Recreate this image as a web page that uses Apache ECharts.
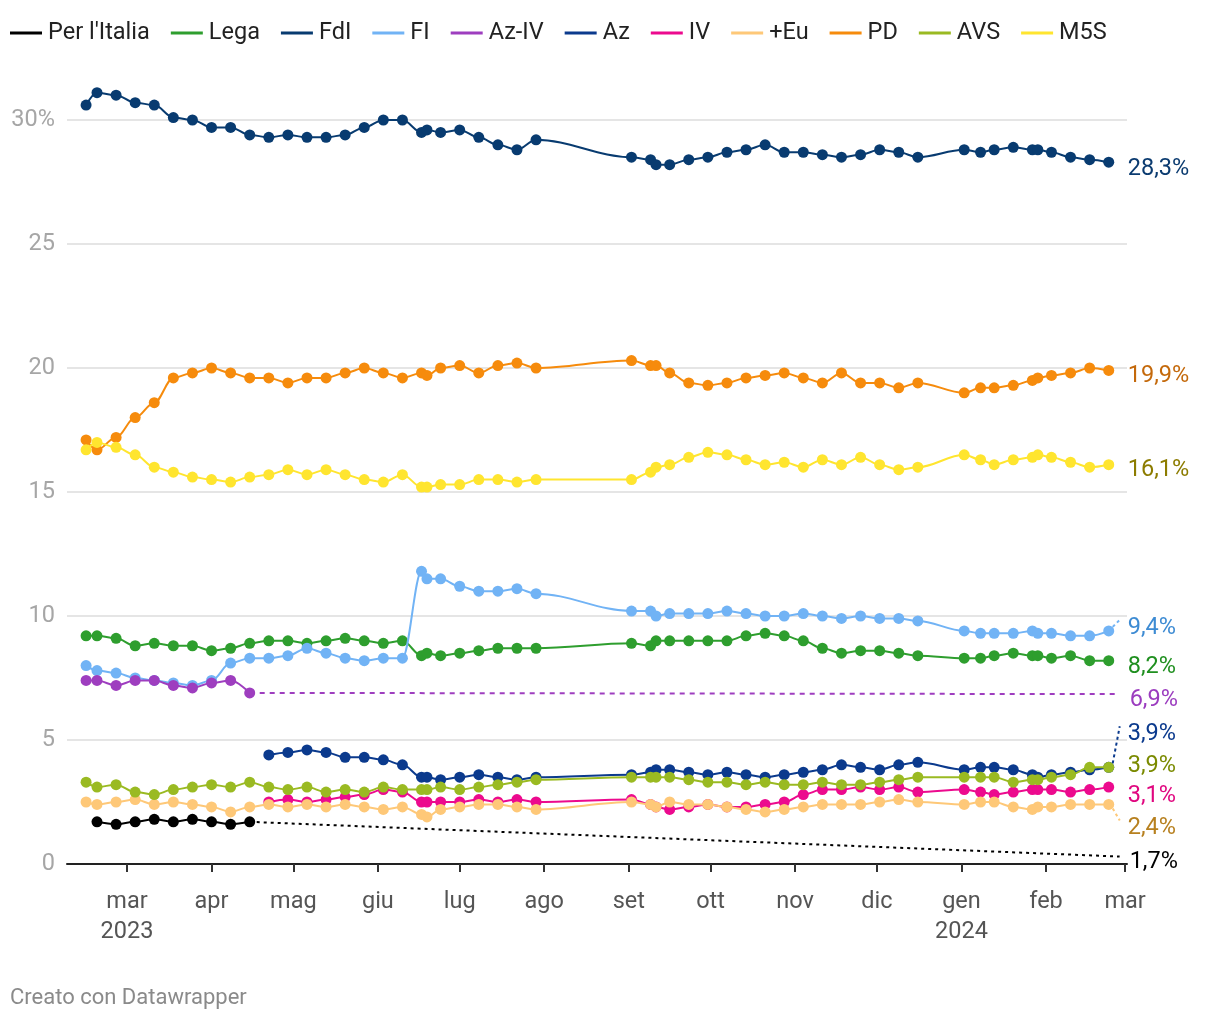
<!DOCTYPE html>
<html><head><meta charset="utf-8">
<script src="https://cdn.jsdelivr.net/npm/echarts@6/dist/echarts.min.js"></script>
<style>html,body{margin:0;padding:0;background:#fff}#c{width:1220px;height:1020px}</style>
</head><body><div id="c"></div>
<script>
// ---------- DATA ----------
const dates = [
 '2023-02-14','2023-02-18','2023-02-25','2023-03-04','2023-03-11','2023-03-18','2023-03-25','2023-04-01','2023-04-08','2023-04-15',
 '2023-04-22','2023-04-29','2023-05-06','2023-05-13','2023-05-20','2023-05-27','2023-06-03','2023-06-10','2023-06-17','2023-06-19',
 '2023-06-24','2023-07-01','2023-07-08','2023-07-15','2023-07-22','2023-07-29',
 '2023-09-02','2023-09-09','2023-09-11','2023-09-16','2023-09-23','2023-09-30',
 '2023-10-07','2023-10-14','2023-10-21','2023-10-28',
 '2023-11-04','2023-11-11','2023-11-18','2023-11-25',
 '2023-12-02','2023-12-09','2023-12-16',
 '2024-01-02','2024-01-08','2024-01-13','2024-01-20','2024-01-27','2024-01-29',
 '2024-02-03','2024-02-10','2024-02-17','2024-02-24'
];
// index of the first date each series starts at
const perItaliaStart = 1, azStart = 10, ivStart = 10;

const perItalia = [1.7,1.6,1.7,1.8,1.7,1.8,1.7,1.6,1.7];
const lega = [9.2,9.2,9.1,8.8,8.9,8.8,8.8,8.6,8.7,8.9, 9.0,9.0,8.9,9.0,9.1,9.0,8.9,9.0,8.4,8.5,
  8.4,8.5,8.6,8.7,8.7,8.7, 8.9,8.8,9.0,9.0,9.0,9.0, 9.0,9.2,9.3,9.2, 9.0,8.7,8.5,8.6, 8.6,8.5,8.4,
  8.3,8.3,8.4,8.5,8.4,8.4, 8.3,8.4,8.2,8.2];
const fdi = [30.6,31.1,31.0,30.7,30.6,30.1,30.0,29.7,29.7,29.4, 29.3,29.4,29.3,29.3,29.4,29.7,30.0,30.0,29.5,29.6,
  29.5,29.6,29.3,29.0,28.8,29.2, 28.5,28.4,28.2,28.2,28.4,28.5, 28.7,28.8,29.0,28.7, 28.7,28.6,28.5,28.6, 28.8,28.7,28.5,
  28.8,28.7,28.8,28.9,28.8,28.8, 28.7,28.5,28.4,28.3];
const fi = [8.0,7.8,7.7,7.5,7.4,7.3,7.2,7.4,8.1,8.3, 8.3,8.4,8.7,8.5,8.3,8.2,8.3,8.3,11.8,11.5,
  11.5,11.2,11.0,11.0,11.1,10.9, 10.2,10.2,10.0,10.1,10.1,10.1, 10.2,10.1,10.0,10.0, 10.1,10.0,9.9,10.0, 9.9,9.9,9.8,
  9.4,9.3,9.3,9.3,9.4,9.3, 9.3,9.2,9.2,9.4];
const azIv = [7.4,7.4,7.2,7.4,7.4,7.2,7.1,7.3,7.4,6.9];
const az = [4.4,4.5,4.6,4.5,4.3,4.3,4.2,4.0,3.5,3.5,
  3.4,3.5,3.6,3.5,3.4,3.5, 3.6,3.7,3.8,3.8,3.7,3.6, 3.7,3.6,3.5,3.6, 3.7,3.8,4.0,3.9, 3.8,4.0,4.1,
  3.8,3.9,3.9,3.8,3.6,3.5, 3.6,3.7,3.8,3.9];
const iv = [2.5,2.6,2.5,2.6,2.7,2.8,3.0,2.9,2.5,2.5,
  2.5,2.5,2.6,2.5,2.6,2.5, 2.6,2.4,2.3,2.2,2.3,2.4, 2.3,2.3,2.4,2.5, 2.8,3.0,3.0,3.1, 3.0,3.1,2.9,
  3.0,2.9,2.8,2.9,3.0,3.0, 3.0,2.9,3.0,3.1];
const piuEu = [2.5,2.4,2.5,2.6,2.4,2.5,2.4,2.3,2.1,2.3, 2.4,2.3,2.4,2.3,2.4,2.3,2.2,2.3,2.0,1.9,
  2.2,2.3,2.4,2.4,2.3,2.2, 2.5,2.4,2.3,2.5,2.4,2.4, 2.3,2.2,2.1,2.2, 2.3,2.4,2.4,2.4, 2.5,2.6,2.5,
  2.4,2.5,2.5,2.3,2.2,2.3, 2.3,2.4,2.4,2.4];
const pd = [17.1,16.7,17.2,18.0,18.6,19.6,19.8,20.0,19.8,19.6, 19.6,19.4,19.6,19.6,19.8,20.0,19.8,19.6,19.8,19.7,
  20.0,20.1,19.8,20.1,20.2,20.0, 20.3,20.1,20.1,19.8,19.4,19.3, 19.4,19.6,19.7,19.8, 19.6,19.4,19.8,19.4, 19.4,19.2,19.4,
  19.0,19.2,19.2,19.3,19.5,19.6, 19.7,19.8,20.0,19.9];
const avs = [3.3,3.1,3.2,2.9,2.8,3.0,3.1,3.2,3.1,3.3, 3.1,3.0,3.1,2.9,3.0,2.9,3.1,3.0,3.0,3.0,
  3.1,3.0,3.1,3.2,3.3,3.4, 3.5,3.5,3.5,3.5,3.4,3.3, 3.3,3.2,3.3,3.2, 3.2,3.3,3.2,3.2, 3.3,3.4,3.5,
  3.5,3.5,3.5,3.3,3.4,3.4, 3.5,3.6,3.9,3.9];
const m5s = [16.7,17.0,16.8,16.5,16.0,15.8,15.6,15.5,15.4,15.6, 15.7,15.9,15.7,15.9,15.7,15.5,15.4,15.7,15.2,15.2,
  15.3,15.3,15.5,15.5,15.4,15.5, 15.5,15.8,16.0,16.1,16.4,16.6, 16.5,16.3,16.1,16.2, 16.0,16.3,16.1,16.4, 16.1,15.9,16.0,
  16.5,16.3,16.1,16.3,16.4,16.5, 16.4,16.2,16.0,16.1];

// dotted continuation lines after the last poll of a discontinued list
const trendDates = ['2023-04-15','2024-02-28'];
const perItaliaTrend = [1.7, 0.3];
const azIvTrend = [6.9, 6.85];

const tickDates = ['2023-03-01','2023-04-01','2023-05-01','2023-06-01','2023-07-01','2023-08-01','2023-09-01',
  '2023-10-01','2023-11-01','2023-12-01','2024-01-01','2024-02-01','2024-03-01'];
const monthNames = ['gen','feb','mar','apr','mag','giu','lug','ago','set','ott','nov','dic'];
const yearLabelDates = ['2023-03-01','2024-01-01'];

// ---------- HELPERS ----------
function ts(s){ const [y,m,d]=s.split('-').map(Number); return new Date(y,m-1,d).getTime(); }
function pairs(vals, start){ return vals.map((v,i)=>[ts(dates[start+i]), v]); }
function fmt(v){ return v.toFixed(1).replace('.', ',') + '%'; }

const FONT = 'Roboto, "Noto Sans", sans-serif';
const FS = 23.5;

const defs = [
  {name:"Per l'Italia", vals:perItalia, start:perItaliaStart, color:'#000000', lc:'#000000', dy:6, trend:perItaliaTrend, dash:[3,4]},
  {name:'Lega', vals:lega, start:0, color:'#2e9e2e', lc:'#1f8f1f', dy:6},
  {name:'FdI', vals:fdi, start:0, color:'#083b70', lc:'#0b3b70', dy:7},
  {name:'FI', vals:fi, start:0, color:'#71b3f5', lc:'#3d8bd3', dy:-3, leader:true},
  {name:'Az-IV', vals:azIv, start:0, color:'#9e3ebf', lc:'#9b3cbf', dy:6, trend:azIvTrend, dash:[5,5]},
  {name:'Az', vals:az, start:azStart, color:'#0b3a8d', lc:'#0b3a8d', dy:-33, leader:true},
  {name:'IV', vals:iv, start:ivStart, color:'#ec0a8e', lc:'#e0067f', dy:9},
  {name:'+Eu', vals:piuEu, start:0, color:'#fec878', lc:'#b7801f', dy:24, leader:true},
  {name:'PD', vals:pd, start:0, color:'#f68b0c', lc:'#c4690b', dy:6},
  {name:'AVS', vals:avs, start:0, color:'#9aba22', lc:'#7a8a00', dy:-1},
  {name:'M5S', vals:m5s, start:0, color:'#ffe52f', lc:'#8c7c00', dy:5}
];

const series = [];
defs.forEach((d, i) => {
  const last = d.vals[d.vals.length-1];
  const endLabel = {
    show:true, formatter:()=>fmt(last), color:d.lc, fontSize:FS, fontFamily:FONT,
    distance:19, offset:[0,d.dy]
  };
  series.push({
    type:'line', name:d.name, data:pairs(d.vals, d.start),
    smooth:0.35, smoothMonotone:'x', symbol:'circle', symbolSize:11, showSymbol:true,
    lineStyle:{width:2, color:d.color}, itemStyle:{color:d.color},
    clip:false, z:2+i, silent:true, animation:false,
    endLabel: d.trend ? {show:false} : endLabel
  });
  if (d.trend) {
    series.push({
      type:'line', name:d.name+' trend', data:d.trend.map((v,k)=>[ts(trendDates[k]), v]),
      symbol:'none', showSymbol:false, lineStyle:{width:2, color:d.color, type:d.dash},
      clip:false, z:1, silent:true, animation:false,
      endLabel: Object.assign({}, endLabel, {distance:10})
    });
  }
});

const tickVals = tickDates.map(ts);
const yearVals = yearLabelDates.map(ts);
const footer = {type:'text', left:10, top:987, style:{text:'Creato con Datawrapper', fill:'#8a8a8a', fontSize:22, fontFamily:FONT}};

const chart = echarts.init(document.getElementById('c'), null, {renderer:'canvas'});
chart.setOption({
  animation:false,
  backgroundColor:'#ffffff',
  textStyle:{fontFamily:FONT},
  legend:{
    data:defs.map(d=>d.name), left:10, top:21, padding:0, icon:'rect', itemWidth:32, itemHeight:3, itemGap:21,
    textStyle:{fontSize:FS, color:'#222', fontFamily:FONT, padding:[0,0,0,1]}, selectedMode:false
  },
  grid:{left:67, right:93, top:120, bottom:156, containLabel:false},
  xAxis:{
    type:'value', min:ts('2023-02-07'), max:ts('2024-03-01')+0.7*86400000, scale:true,
    axisLine:{show:true, onZero:false, lineStyle:{color:'#222', width:2}},
    axisTick:{show:true, length:8, lineStyle:{color:'#333', width:2}, customValues:tickVals},
    axisLabel:{
      customValues:tickVals, margin:23, fontSize:FS, color:'#555', fontFamily:FONT, lineHeight:30,
      formatter:(v)=>{ const dt=new Date(v); let s=monthNames[dt.getMonth()];
        if (yearVals.includes(v)) s += '\n' + dt.getFullYear(); return s; }
    },
    splitLine:{show:false}
  },
  yAxis:{
    type:'value', min:0, max:30, interval:5,
    axisLine:{show:false}, axisTick:{show:false},
    axisLabel:{margin:12, fontSize:FS, color:'#a6a6a6', fontFamily:FONT,
      formatter:(v)=> v===30 ? '30%' : String(v)},
    splitLine:{show:true, lineStyle:{color:'#e5e5e5', width:2}}
  },
  graphic:[footer],
  series:series
});

// short guide lines from the last point to labels that were moved away from it
const guides = [];
defs.forEach((d) => {
  if (!d.leader) return;
  const lastIdx = d.vals.length - 1;
  const p = chart.convertToPixel({xAxisIndex:0, yAxisIndex:0}, [ts(dates[d.start+lastIdx]), d.vals[lastIdx]]);
  const dir = d.dy < 0 ? -1 : 1;
  guides.push({
    type:'line', silent:true, z:50,
    shape:{x1:p[0]+4, y1:p[1]+dir*4, x2:p[0]+11, y2:p[1]+d.dy-8},
    style:{stroke:d.color, lineWidth:2, lineDash:[3,3]}
  });
});
chart.setOption({graphic:guides.concat([footer])}, {replaceMerge:['graphic']});
</script></body></html>
